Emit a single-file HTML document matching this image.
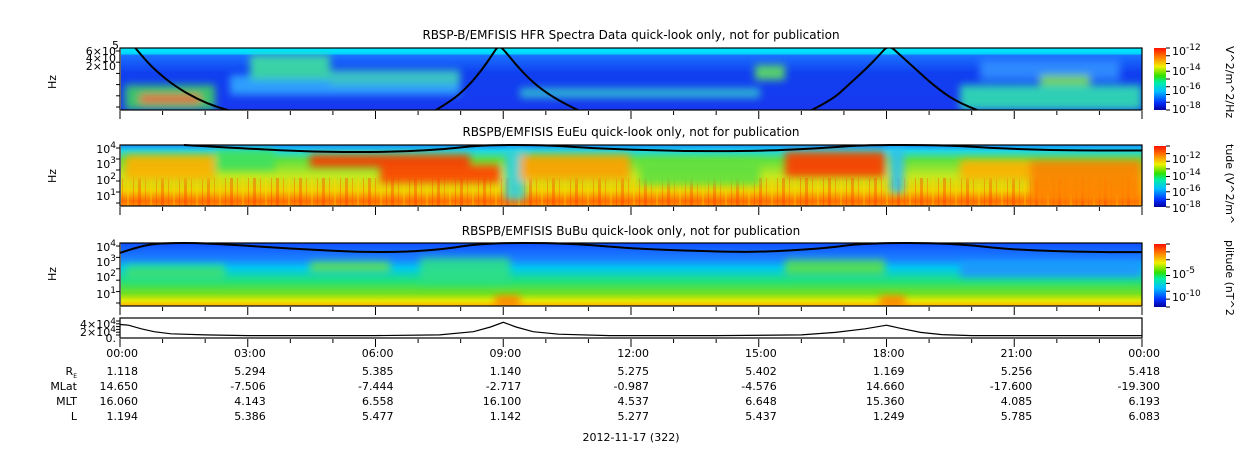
<!DOCTYPE html>
<html><head><meta charset="utf-8"><style>
html,body{margin:0;padding:0;background:#fff;}
svg text{font-family:"DejaVu Sans","Liberation Sans",sans-serif;fill:#000;}
</style></head><body>
<svg id="chart" width="1250" height="449" viewBox="0 0 1250 449" xmlns="http://www.w3.org/2000/svg">
<defs>
<linearGradient id="jet" x1="0" y1="1" x2="0" y2="0">
<stop offset="0" stop-color="#0000a0"/><stop offset="0.12" stop-color="#0030ff"/><stop offset="0.3" stop-color="#00c0ff"/>
<stop offset="0.45" stop-color="#00f0a0"/><stop offset="0.55" stop-color="#30e000"/><stop offset="0.7" stop-color="#f0f000"/>
<stop offset="0.85" stop-color="#ff8000"/><stop offset="1" stop-color="#ff1000"/></linearGradient>
<linearGradient id="g1" x1="0" y1="0" x2="0" y2="1">
<stop offset="0" stop-color="#00e8ff"/><stop offset="0.09" stop-color="#00d8ff"/><stop offset="0.12" stop-color="#1a70ff"/>
<stop offset="0.4" stop-color="#1040f0"/><stop offset="1" stop-color="#1838f0"/></linearGradient>
<linearGradient id="g2" x1="0" y1="0" x2="0" y2="1">
<stop offset="0" stop-color="#1090ff"/><stop offset="0.1" stop-color="#20d8e0"/><stop offset="0.25" stop-color="#60e040"/>
<stop offset="0.5" stop-color="#c0e820"/><stop offset="0.75" stop-color="#f0d000"/><stop offset="0.92" stop-color="#ff7000"/><stop offset="1" stop-color="#ff9000"/></linearGradient>
<linearGradient id="g3" x1="0" y1="0" x2="0" y2="1">
<stop offset="0" stop-color="#1050ff"/><stop offset="0.25" stop-color="#1a80ff"/><stop offset="0.4" stop-color="#00c8f0"/>
<stop offset="0.6" stop-color="#20e080"/><stop offset="0.8" stop-color="#70e020"/><stop offset="0.92" stop-color="#e8e800"/><stop offset="1" stop-color="#ffb000"/></linearGradient>
<filter id="bl" x="-20%" y="-50%" width="140%" height="200%"><feGaussianBlur stdDeviation="4"/></filter>
<pattern id="streak" width="23" height="10" patternUnits="userSpaceOnUse"><rect x="0" y="0" width="3" height="10" fill="#ff3000" opacity="0.35"/><rect x="7" y="0" width="1" height="10" fill="#ff5000" opacity="0.35"/><rect x="12" y="0" width="2" height="10" fill="#ffe000" opacity="0.3"/><rect x="18" y="0" width="1" height="10" fill="#ff2000" opacity="0.3"/></pattern>
<clipPath id="c1"><rect x="121" y="48" width="1021" height="62"/></clipPath>
<clipPath id="c2"><rect x="121" y="145" width="1021" height="61"/></clipPath>
<clipPath id="c3"><rect x="121" y="243" width="1021" height="63"/></clipPath>
</defs>

<text x="631" y="39" font-size="12" text-anchor="middle">RBSP-B/EMFISIS  HFR Spectra Data quick-look only, not for publication</text>
<text x="631" y="136" font-size="12" text-anchor="middle">RBSPB/EMFISIS  EuEu quick-look only, not for publication</text>
<text x="631" y="235" font-size="12" text-anchor="middle">RBSPB/EMFISIS  BuBu quick-look only, not for publication</text>

<g clip-path="url(#c1)">
<rect x="121" y="48" width="1021" height="62" fill="url(#g1)"/>
<g filter="url(#bl)" opacity="0.9">
<rect x="125" y="85" width="90" height="25" fill="#40d060"/>
<rect x="140" y="95" width="60" height="8" fill="#ff6020"/>
<rect x="230" y="75" width="230" height="20" fill="#30a8ff"/>
<rect x="250" y="55" width="80" height="25" fill="#40e0a0"/>
<rect x="330" y="70" width="130" height="15" fill="#40d0c0"/>
<rect x="520" y="88" width="240" height="10" fill="#30c0d0"/>
<rect x="755" y="65" width="30" height="15" fill="#60e060"/>
<rect x="960" y="85" width="182" height="25" fill="#30e0b0"/>
<rect x="980" y="60" width="140" height="20" fill="#3090ff"/>
<rect x="1040" y="75" width="50" height="10" fill="#80e040"/>
</g>
</g>

<g clip-path="url(#c2)">
<rect x="121" y="145" width="1021" height="61" fill="url(#g2)"/>
<rect x="121" y="178" width="1021" height="28" fill="url(#streak)"/>
<g filter="url(#bl)" opacity="0.9">
<rect x="125" y="155" width="90" height="25" fill="#ffb000"/>
<rect x="215" y="150" width="60" height="20" fill="#40e060"/>
<rect x="310" y="155" width="160" height="12" fill="#ff3000"/>
<rect x="380" y="165" width="120" height="18" fill="#ff4000"/>
<rect x="505" y="150" width="20" height="50" fill="#30d0e0"/>
<rect x="520" y="155" width="110" height="25" fill="#ffa000"/>
<rect x="640" y="160" width="120" height="25" fill="#60e040"/>
<rect x="785" y="152" width="100" height="25" fill="#ff3800"/>
<rect x="890" y="148" width="14" height="45" fill="#30c0f0"/>
<rect x="960" y="160" width="80" height="20" fill="#ffb000"/>
<rect x="1030" y="160" width="112" height="40" fill="#ff8000"/>
</g>
</g>

<g clip-path="url(#c3)">
<rect x="121" y="243" width="1021" height="63" fill="url(#g3)"/>
<g filter="url(#bl)" opacity="0.85">
<rect x="125" y="265" width="100" height="15" fill="#40e070"/>
<rect x="310" y="262" width="80" height="10" fill="#70e040"/>
<rect x="420" y="258" width="90" height="25" fill="#30e080"/>
<rect x="785" y="260" width="100" height="15" fill="#60e040"/>
<rect x="960" y="262" width="182" height="15" fill="#2090ff"/>
<rect x="495" y="296" width="25" height="10" fill="#ff7000"/>
<rect x="880" y="296" width="25" height="10" fill="#ff7000"/>
</g>
</g>

<g id="curves" fill="none" stroke="#000" stroke-width="2"></g>
<g id="p4"></g>
<g id="axes"></g>

<rect x="1154" y="48" width="12" height="62" fill="url(#jet)"/>
<rect x="1154" y="146" width="12" height="61" fill="url(#jet)"/>
<rect x="1154" y="244" width="12" height="63" fill="url(#jet)"/>
<g font-size="11">
<text x="1172" y="55">10<tspan dy="-5" font-size="9">-12</tspan></text>
<text x="1172" y="75">10<tspan dy="-5" font-size="9">-14</tspan></text>
<text x="1172" y="94">10<tspan dy="-5" font-size="9">-16</tspan></text>
<text x="1172" y="113">10<tspan dy="-5" font-size="9">-18</tspan></text>
<text x="1172" y="163">10<tspan dy="-5" font-size="9">-12</tspan></text>
<text x="1172" y="180">10<tspan dy="-5" font-size="9">-14</tspan></text>
<text x="1172" y="196">10<tspan dy="-5" font-size="9">-16</tspan></text>
<text x="1172" y="212">10<tspan dy="-5" font-size="9">-18</tspan></text>
<text x="1172" y="278">10<tspan dy="-5" font-size="9">-5</tspan></text>
<text x="1172" y="301">10<tspan dy="-5" font-size="9">-10</tspan></text>
</g>
<text transform="translate(1226,46) rotate(90)" font-size="11">V^2/m^2/Hz</text>
<text transform="translate(1226,144) rotate(90)" font-size="11">tude (V^2/m^</text>
<text transform="translate(1226,240) rotate(90)" font-size="11">plitude (nT^2</text>

<g font-size="11" text-anchor="end">
<text x="119" y="49">5</text>
<text x="116" y="55">6×10</text><text x="116" y="62">4×10</text><text x="116" y="70">2×10</text>
<text x="116" y="153">10<tspan dy="-5" font-size="9">4</tspan></text>
<text x="116" y="168">10<tspan dy="-5" font-size="9">3</tspan></text>
<text x="116" y="184">10<tspan dy="-5" font-size="9">2</tspan></text>
<text x="116" y="200">10<tspan dy="-5" font-size="9">1</tspan></text>
<text x="116" y="251">10<tspan dy="-5" font-size="9">4</tspan></text>
<text x="116" y="266">10<tspan dy="-5" font-size="9">3</tspan></text>
<text x="116" y="281">10<tspan dy="-5" font-size="9">2</tspan></text>
<text x="116" y="298">10<tspan dy="-5" font-size="9">1</tspan></text>
<text x="116" y="328">4×10<tspan dy="-4" font-size="9">4</tspan></text>
<text x="116" y="336">2×10<tspan dy="-4" font-size="9">4</tspan></text>
<text x="116" y="342">0.</text>
</g>
<text transform="translate(56,82) rotate(-90)" font-size="11" text-anchor="middle">Hz</text>
<text transform="translate(56,176) rotate(-90)" font-size="11" text-anchor="middle">Hz</text>
<text transform="translate(56,274) rotate(-90)" font-size="11" text-anchor="middle">Hz</text>

<g id="table" font-size="11"></g>
<g font-size="11" text-anchor="end">
<text x="77" y="375">R<tspan font-size="6" dy="3">E</tspan></text>
<text x="77" y="390">MLat</text><text x="77" y="405">MLT</text><text x="77" y="420">L</text>
</g>
<text x="631" y="441" font-size="11" text-anchor="middle">2012-11-17 (322)</text>
</svg>
<script>
const hours=[0,3,6,9,12,15,18,21,24];
const timeLabels=["00:00","03:00","06:00","09:00","12:00","15:00","18:00","21:00","00:00"];
const rE=["1.118","5.294","5.385","1.140","5.275","5.402","1.169","5.256","5.418"];
const mlat=["14.650","-7.506","-7.444","-2.717","-0.987","-4.576","14.660","-17.600","-19.300"];
const mlt=["16.060","4.143","6.558","16.100","4.537","6.648","15.360","4.085","6.193"];
const lshell=["1.194","5.386","5.477","1.142","5.277","5.437","1.249","5.785","6.083"];
const densT=[0,0.2,0.5,0.8,1.2,2,3,6,7.5,8.3,8.7,9,9.3,9.7,10.3,11.5,14,16,16.8,17.5,18,18.3,18.8,19.3,20,24];
const densV=[3.2,3.0,2.0,1.2,0.6,0.3,0.1,0.1,0.3,1.2,2.5,3.8,2.5,1.2,0.5,0.1,0.1,0.3,1.0,2.0,3.0,2.2,1.0,0.4,0.1,0.1];
const cyc1T=[[0.3,-0.05],[0.6,0.2],[0.9,0.4],[1.3,0.62],[1.8,0.82],[2.3,0.96],[2.8,1.05]];
const cyc2T=[[7.3,1.05],[7.8,0.85],[8.2,0.6],[8.5,0.35],[8.75,0.1],[8.9,-0.05],[9.1,0.1],[9.4,0.35],[9.8,0.62],[10.3,0.85],[10.9,1.05]];
const cyc3T=[[16.1,1.05],[16.7,0.85],[17.1,0.6],[17.5,0.35],[17.85,0.1],[18.05,-0.05],[18.3,0.1],[18.7,0.35],[19.1,0.6],[19.6,0.85],[20.3,1.05]];
const eCurve=[[1.5,0],[3,0.06],[4.5,0.11],[6,0.12],[7.5,0.08],[8.5,0],[10,0],[11,0.05],[13,0.1],[15,0.1],[16.5,0.05],[17.5,0],[19.3,0],[20.5,0.05],[22,0.09],[24,0.09]];
const bCurve=[[0,0.35],[0.5,0.1],[1,0],[2,0],[4,0.2],[6,0.35],[7.5,0.25],[8.5,0],[10.5,0],[12,0.2],[14,0.3],[15,0.32],[16.5,0.2],[17.5,0],[19.5,0],[21,0.25],[23,0.32],[24,0.32]];

const X0=120,X1=1142;
const xs=h=>X0+(X1-X0)*h/24;
const NS="http://www.w3.org/2000/svg";
function mk(tag,attrs,parent){const e=document.createElementNS(NS,tag);for(const k in attrs)e.setAttribute(k,attrs[k]);parent.appendChild(e);return e;}
function smooth(P){
  let d='M'+P[0][0].toFixed(1)+','+P[0][1].toFixed(1);
  for(let i=1;i < P.length-1;i++){
    const mx=(P[i][0]+P[i+1][0])/2,my=(P[i][1]+P[i+1][1])/2;
    d+='Q'+P[i][0].toFixed(1)+','+P[i][1].toFixed(1)+' '+mx.toFixed(1)+','+my.toFixed(1);
  }
  const L=P[P.length-1];d+='L'+L[0].toFixed(1)+','+L[1].toFixed(1);return d;
}
const cg=document.getElementById('curves');
function curve(pts,y0,hh,name,parent){
  const p=mk('path',{d:smooth(pts.map(q=>[xs(q[0]),y0+hh*q[1]])),'stroke-linejoin':'round'},parent||cg);
  
  
}
const cl1=mk('g',{'clip-path':'url(#c1)'},cg);
curve(cyc1T,48,62,'hfr-gyro-curve',cl1);
curve(cyc2T,48,62,'hfr-gyro-curve',cl1);
curve(cyc3T,48,62,'hfr-gyro-curve',cl1);
curve(eCurve,145,61,'eueu-gyro-curve');
curve(bCurve,243,63*0.45,'bubu-gyro-curve');

const p4=document.getElementById('p4');
const P4Y0=318,P4Y1=338,VMAX=5;
mk('rect',{x:120,y:P4Y0,width:1022,height:P4Y1-P4Y0,fill:'#fff'},p4);
const dl=mk('path',{d:'M'+densT.map((t,i)=>xs(t).toFixed(1)+','+(P4Y1-2-(P4Y1-P4Y0-2)*densV[i]/VMAX).toFixed(1)).join('L'),fill:'none',stroke:'#000','stroke-width':1.2},p4);



const ax=document.getElementById('axes');
[[48,110],[145,206],[243,306],[318,338]].forEach(([a,b])=>{
  const r=mk('rect',{x:120,y:a,width:1022,height:b-a,fill:'none',stroke:'#000','stroke-width':1.2},ax);
  
  
  for(let h=0;h<=24;h++){
    const len=(h%3===0)?8:4;
    mk('line',{x1:xs(h),x2:xs(h),y1:b+1,y2:b+1+len,stroke:'#000','stroke-width':1},ax);
  }
  for(let k=0;k<6;k++) mk('line',{x1:116,x2:120,y1:a+3+k*((b-a-6)/5),y2:a+3+k*((b-a-6)/5),stroke:'#000','stroke-width':1},ax);
});
[[48,110],[146,207],[244,307]].forEach(([a,b])=>{for(let k=0;k<=8;k++)mk('line',{x1:1166,x2:1170,y1:a+k*(b-a)/8,y2:a+k*(b-a)/8,stroke:'#000'},ax);});

const tb=document.getElementById('table');
hours.forEach((h,i)=>{
  const x=xs(h);
  const rows=[[timeLabels[i],357],[rE[i],375],[mlat[i],390],[mlt[i],405],[lshell[i],420]];
  rows.forEach(([txt,y],j)=>{
    const t=mk('text',{x:x+18,y:y,'text-anchor':'end'},tb);
    t.textContent=txt;
    
    
  });
});
</script>
</body></html>
